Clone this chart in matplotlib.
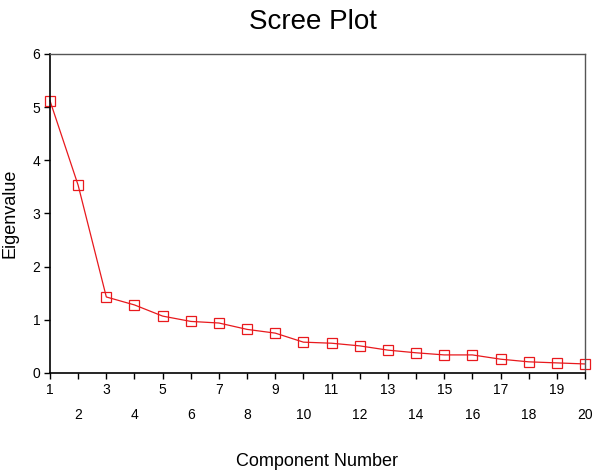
import matplotlib
matplotlib.use("Agg")
from matplotlib import pyplot as plt

# Eigenvalues
components = list(range(1, 21))
eigenvalues = [5.12, 3.53, 1.43, 1.28, 1.07, 0.97, 0.94, 0.82, 0.75, 0.58,
               0.56, 0.51, 0.43, 0.38, 0.34, 0.34, 0.26, 0.21, 0.19, 0.17]
odd_ticks = [c for c in components if c % 2 == 1]
even_ticks = [c for c in components if c % 2 == 0]
y_ticks = [0, 1, 2, 3, 4, 5, 6]

plt.rcParams["font.family"] = ["Liberation Sans", "DejaVu Sans"]

fig = plt.figure(figsize=(5.96, 4.74), dpi=100)
ax = fig.add_axes([0.0839, 0.2131, 0.8976, 0.6730])

ax.plot(components, eigenvalues, color="#e8191d", lw=0.9,
        marker="s", markersize=6.5, markerfacecolor="none",
        markeredgecolor="#e8191d", markeredgewidth=0.9, clip_on=False)

ax.set_xlim(1, 20)
ax.set_ylim(0, 6)
ax.set_yticks(y_ticks)
ax.set_xticks(odd_ticks)
ax.set_xticks(even_ticks, minor=True)
ax.set_xticklabels([str(c) for c in odd_ticks])
ax.set_xticklabels([str(c) for c in even_ticks], minor=True)

ax.tick_params(axis="both", which="both", direction="out", length=4,
               width=1, labelsize=10, colors="black")
ax.tick_params(axis="x", which="major", pad=3)
ax.tick_params(axis="x", which="minor", pad=21)
ax.tick_params(axis="y", pad=3)

for side in ("left", "bottom"):
    ax.spines[side].set_color("black")
    ax.spines[side].set_linewidth(1.2)
for side in ("top", "right"):
    ax.spines[side].set_color("#555555")
    ax.spines[side].set_linewidth(1.0)

fig.text(0.525, 0.953, "Scree Plot", ha="center", va="center", fontsize=20)
fig.text(0.532, 0.027, "Component Number", ha="center", va="center",
         fontsize=13)
fig.text(0.016, 0.55, "Eigenvalue", ha="center", va="center",
         rotation=90, fontsize=13)

fig.savefig("out.png", dpi=100)
